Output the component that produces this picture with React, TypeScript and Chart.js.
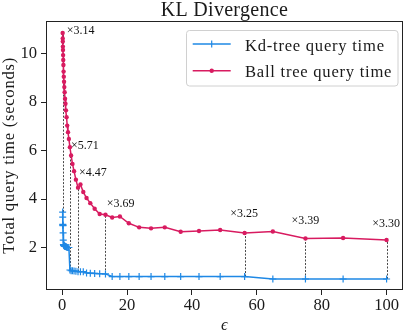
import React, { useEffect, useRef } from 'react';
import { Chart, registerables } from 'chart.js';

Chart.register(...registerables);

// ε values (log-spaced)
const epsilon = [
  0.1334, 0.154, 0.1778, 0.2054, 0.2371, 0.2738, 0.3162, 0.3652, 0.4217, 0.487,
  0.5623, 0.6494, 0.7499, 0.866, 1.0, 1.1548, 1.3335, 1.5399, 1.7783, 2.0535,
  2.3714, 2.7384, 3.1623, 3.6517, 4.217, 4.8697, 5.6234, 6.4938, 7.4989, 8.6596,
  10.0, 11.548, 13.335, 15.399, 17.783, 20.535, 23.714, 27.384, 31.623, 36.517,
  42.17, 48.697, 56.234, 64.938, 74.989, 86.596, 100.0,
];

const kdTime = [
  3.46, 3.25, 2.95, 2.92, 2.9, 2.6, 2.3, 2.12, 2.1, 2.1,
  2.08, 2.06, 2.05, 2.05, 2.04, 2.03, 2.02, 2.0, 2.0, 2.0,
  1.07, 1.04, 1.04, 1.03, 1.02, 1.0, 1.0, 1.0, 0.95, 0.94,
  0.93, 0.92, 0.91, 0.8, 0.8, 0.8, 0.8, 0.8, 0.8, 0.8,
  0.8, 0.8, 0.8, 0.7, 0.7, 0.7, 0.7,
];

const ballTime = [
  10.85, 10.63, 10.5, 10.29, 10.15, 9.94, 9.74, 9.53, 9.26, 9.05,
  8.84, 8.62, 8.41, 8.14, 7.93, 7.66, 7.38, 7.03, 6.76, 6.48,
  6.14, 5.8, 5.45, 5.15, 4.8, 4.47, 4.6, 4.29, 4.04, 3.83,
  3.6, 3.38, 3.35, 3.24, 3.28, 3.0, 2.83, 2.79, 2.83, 2.65,
  2.68, 2.72, 2.6, 2.66, 2.375, 2.39, 2.31,
];

const speedupIdx = [0, 20, 25, 32, 42, 44, 46];
const speedupLabels = ['×3.14', '×5.71', '×4.47', '×3.69', '×3.25', '×3.39', '×3.30'];

const xTicks = [0, 20, 40, 60, 80, 100];
const yTicks = [2, 4, 6, 8, 10];

const seriesNames = ['Kd-tree query time', 'Ball tree query time'];
const titleText = 'KL Divergence';
const xTitle = 'ϵ';
const yTitle = 'Total query time (seconds)';

const KD_COLOR = '#1E88E5';
const BALL_COLOR = '#D81B60';
const FONT = "'Liberation Serif', 'DejaVu Serif', serif";
const FS = 16.6;

// label placement offsets (px) relative to the ball-tree point
const labelOffsets = [
  [4, -2.5], [1, -1.5], [1, -15], [1.3, -11], [-14.4, -19], [-14, -17.4], [-14.4, -16],
];

const overlay = {
  id: 'overlay',
  beforeDatasetsDraw(chart: any) {
    const { ctx, scales } = chart;
    const x = scales.x, y = scales.y;
    ctx.save();
    ctx.strokeStyle = '#333';
    ctx.lineWidth = 0.9;
    ctx.setLineDash([2, 1.5]);
    speedupIdx.forEach((i) => {
      const px = Math.round(x.getPixelForValue(epsilon[i])) + 0.5;
      ctx.beginPath();
      ctx.moveTo(px, y.getPixelForValue(kdTime[i]));
      ctx.lineTo(px, y.getPixelForValue(ballTime[i]));
      ctx.stroke();
    });
    ctx.restore();
  },
  afterDraw(chart: any) {
    const { ctx, scales, chartArea } = chart;
    const x = scales.x, y = scales.y;
    ctx.save();
    // speedup labels
    ctx.fillStyle = '#111';
    ctx.font = `12px ${FONT}`;
    ctx.textAlign = 'left';
    ctx.textBaseline = 'middle';
    speedupIdx.forEach((i, j) => {
      const px = x.getPixelForValue(epsilon[i]);
      const py = y.getPixelForValue(ballTime[i]);
      ctx.fillText(speedupLabels[j], px + labelOffsets[j][0], py + labelOffsets[j][1]);
    });

    // frame
    ctx.strokeStyle = '#222';
    ctx.lineWidth = 1;
    ctx.setLineDash([]);
    const l = Math.round(chartArea.left) + 0.5;
    const t = Math.round(chartArea.top) + 0.5;
    const r = Math.round(chartArea.right) - 0.5;
    const b = Math.round(chartArea.bottom) - 0.5;
    ctx.strokeRect(l, t, r - l, b - t);

    // legend
    const lx = 186.5, ly = 30.5, lw = 211.5, lh = 55.5;
    ctx.fillStyle = 'rgba(255,255,255,0.85)';
    ctx.strokeStyle = '#d0d0d0';
    ctx.lineWidth = 1;
    ctx.beginPath();
    (ctx as any).roundRect(lx, ly, lw, lh, 3);
    ctx.fill();
    ctx.stroke();
    const rows = [44, 70.7];
    const colors = [KD_COLOR, BALL_COLOR];
    rows.forEach((ry, k) => {
      ctx.strokeStyle = colors[k];
      ctx.lineWidth = 1.5;
      ctx.beginPath();
      ctx.moveTo(192.7, ry);
      ctx.lineTo(230.7, ry);
      ctx.stroke();
      if (k === 0) {
        ctx.lineWidth = 1.2;
        ctx.beginPath();
        ctx.moveTo(211.7, ry - 3.5);
        ctx.lineTo(211.7, ry + 3.5);
        ctx.stroke();
      } else {
        ctx.fillStyle = colors[k];
        ctx.beginPath();
        ctx.arc(211.7, ry, 2.2, 0, Math.PI * 2);
        ctx.fill();
      }
    });
    ctx.fillStyle = '#1a1a1a';
    ctx.font = `${FS}px ${FONT}`;
    (ctx as any).letterSpacing = '0.75px';
    ctx.textAlign = 'left';
    ctx.textBaseline = 'alphabetic';
    ctx.fillText(seriesNames[0], 245, 50.5);
    ctx.fillText(seriesNames[1], 245, 77);

    // title
    ctx.font = `20px ${FONT}`;
    (ctx as any).letterSpacing = '0.3px';
    ctx.textAlign = 'center';
    ctx.fillText(titleText, (chartArea.left + chartArea.right) / 2, 15.5);

    // x title
    ctx.font = `italic ${FS}px ${FONT}`;
    (ctx as any).letterSpacing = '0px';
    ctx.fillText(xTitle, (chartArea.left + chartArea.right) / 2, 329.5);

    // y title
    ctx.font = `${FS}px ${FONT}`;
    (ctx as any).letterSpacing = '0.75px';
    ctx.translate(13.5, (chartArea.top + chartArea.bottom) / 2);
    ctx.rotate(-Math.PI / 2);
    ctx.textAlign = 'center';
    ctx.fillText(yTitle, 0, 0);
    ctx.restore();
  },
};

export default function App() {
  const ref = useRef<HTMLCanvasElement | null>(null);
  useEffect(() => {
    if (!ref.current) return;
    const chart = new Chart(ref.current, {
      type: 'line',
      data: {
        datasets: [
          {
            label: seriesNames[0],
            data: epsilon.map((e, i) => ({ x: e, y: kdTime[i] })),
            borderColor: KD_COLOR,
            backgroundColor: KD_COLOR,
            borderWidth: 1.5,
            pointStyle: 'cross',
            pointRadius: 3.5,
            pointBorderWidth: 1.2,
            pointBorderColor: KD_COLOR,
            tension: 0,
          },
          {
            label: seriesNames[1],
            data: epsilon.map((e, i) => ({ x: e, y: ballTime[i] })),
            borderColor: BALL_COLOR,
            backgroundColor: BALL_COLOR,
            borderWidth: 1.5,
            pointStyle: 'circle',
            pointRadius: 2.2,
            pointBorderWidth: 0,
            tension: 0,
          },
        ],
      },
      options: {
        animation: false,
        responsive: false,
        devicePixelRatio: 1,
        layout: { padding: { top: 20.7, right: 1.3, left: 0, bottom: 0 } },
        plugins: {
          legend: { display: false },
          title: { display: false },
          tooltip: { enabled: false },
        },
        scales: {
          x: {
            type: 'linear',
            min: -5,
            max: 105,
            afterBuildTicks: (s: any) => {
              s.ticks = xTicks.map((v) => ({ value: v }));
            },
            afterFit: (s: any) => {
              s.height = 44;
            },
            grid: { drawOnChartArea: false, drawTicks: true, tickLength: 5, tickColor: '#222', tickWidth: 1 },
            border: { display: false },
            ticks: {
              font: { family: FONT, size: FS },
              color: '#1a1a1a',
              padding: 1,
              maxRotation: 0,
              autoSkip: false,
              callback: (v: any) => String(v),
            },
          },
          y: {
            type: 'linear',
            min: 0.245,
            max: 11.36,
            afterBuildTicks: (s: any) => {
              s.ticks = yTicks.map((v) => ({ value: v }));
            },
            afterFit: (s: any) => {
              s.width = 46;
            },
            grid: { drawOnChartArea: false, drawTicks: true, tickLength: 5, tickColor: '#222', tickWidth: 1 },
            border: { display: false },
            ticks: {
              font: { family: FONT, size: FS },
              color: '#1a1a1a',
              padding: 4,
              autoSkip: false,
              callback: (v: any) => String(v),
            },
          },
        },
      },
      plugins: [overlay],
    } as any);
    return () => chart.destroy();
  }, []);
  return (
    <div style={{ position: 'absolute', left: 0, top: 0, width: 408, height: 334 }}>
      <canvas ref={ref} width={408} height={334} style={{ display: 'block', width: 408, height: 334 }} />
    </div>
  );
}
